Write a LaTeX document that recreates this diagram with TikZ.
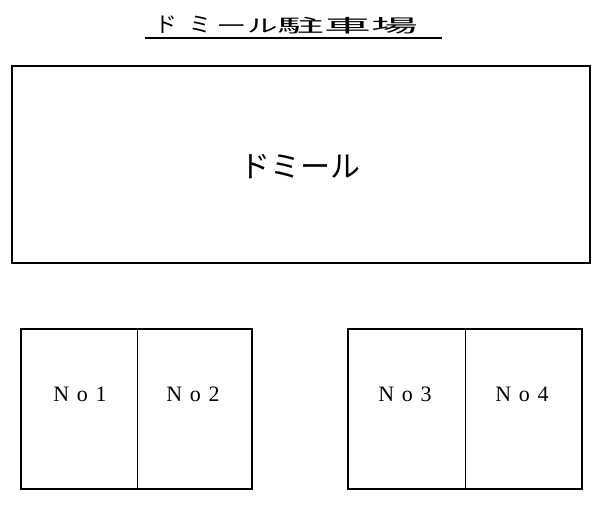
\documentclass[tikz,border=0pt]{standalone}
\usepackage{fontspec}
\newfontfamily\jp{Noto Sans CJK JP}
\setmainfont{Liberation Serif}
\begin{document}
\begin{tikzpicture}[x=1pt,y=-1pt,
  box/.style={draw=black,line width=1.1pt},
  divider/.style={line width=0.9pt},
  lbl/.style={font=\fontsize{22}{22}\selectfont,inner sep=0pt},
  ttl/.style={font=\jp\fontsize{18}{18}\selectfont,inner sep=0pt}]
\useasboundingbox (0,0) rectangle (603,524);
% title
\node[ttl,anchor=west] (title) at (155,25) {\scalebox{1.2}{ド}\hspace{13pt}\scalebox{1.2}{ミ}\hspace{5pt}\scalebox{1.7}[1]{ー}\scalebox{1.7}[1]{ル}\scalebox{2.6}[1]{駐車場}};
\coordinate (ul1) at (145,38);
\coordinate (ul2) at (442,38);
\draw[line width=1.2pt] (ul1) -- (ul2);
% building
\draw[box] (12,66) rectangle (590,263);
\node[font=\jp\fontsize{30}{30}\selectfont,inner sep=0pt] (dm) at (300,167) {ドミール};
% left parking
\draw[box] (21,329) rectangle (252,489);
\draw[divider] (137,329) -- (137,489);
\node[lbl] (n1) at (80,394) {N\hspace{0.35em}o\hspace{0.35em}1};
\node[lbl] (n2) at (193,394) {N\hspace{0.35em}o\hspace{0.35em}2};
% right parking
\draw[box] (348,329) rectangle (582,489);
\draw[divider] (465,329) -- (465,489);
\node[lbl] (n3) at (405,394) {N\hspace{0.35em}o\hspace{0.35em}3};
\node[lbl] (n4) at (522,394) {N\hspace{0.35em}o\hspace{0.35em}4};
\end{tikzpicture}
\end{document}
